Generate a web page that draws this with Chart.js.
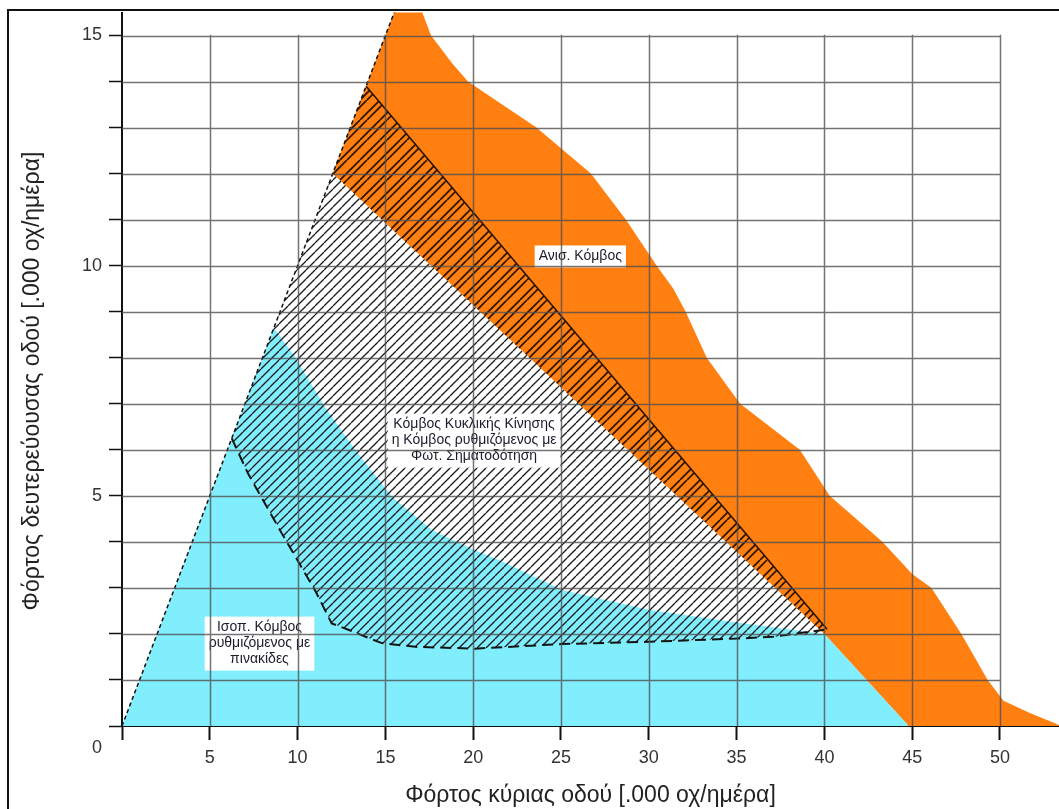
<!DOCTYPE html>
<html><head><meta charset="utf-8">
<script src="https://cdn.jsdelivr.net/npm/chart.js@4.4.1/dist/chart.umd.min.js"></script>
<style>html,body{margin:0;padding:0;background:#fff;overflow:hidden}canvas{display:block}</style>
</head><body>
<canvas id="c" width="1059" height="809"></canvas>
<script>
// ---------- data ----------
const xTicks = [0, 5, 10, 15, 20, 25, 30, 35, 40, 45, 50];
const yTicks = [0, 1, 2, 3, 4, 5, 6, 7, 8, 9, 10, 11, 12, 13, 14, 15];
const xGrid = [5, 10, 15, 20, 25, 30, 35, 40, 45, 50];
const yGrid = [1, 2, 3, 4, 5, 6, 7, 8, 9, 10, 11, 12, 13, 14, 15];

// limit line (secondary = main)
const boundaryX = [0, 15.7];
const boundaryY = [0, 15.7];

// orange zone (grade-separated junction)
const orangeX = [12, 15.7, 16.9, 17.6, 18.8, 19.7, 23.6, 26.7, 28.7, 30.45, 31.4, 32.1, 33.3, 35.2, 38.6, 40.3, 43.3, 45.0, 46.1, 47.8, 49.3, 50.2, 51.7, 53.2, 53.4, 44.8, 40.0, 12];
const orangeY = [12, 15.7, 15.7, 15.0, 14.4, 14.0, 13.0, 12.0, 11.0, 10.0, 9.5, 9.0, 8.0, 7.0, 6.0, 5.0, 4.0, 3.3, 3.0, 2.0, 1.0, 0.55, 0.28, 0.05, 0, 0, 2.0, 12];

// cyan zone (at-grade junction with signs)
const cyanX = [0, 8.65, 9.85, 11.56, 13.27, 15.4, 17.65, 20.1, 21.5, 25.1, 30.07, 35.2, 39.0, 40.0, 44.8, 0];
const cyanY = [0, 8.65, 8.02, 6.93, 6.0, 4.97, 4.26, 3.82, 3.6, 2.95, 2.52, 2.24, 2.05, 2.0, 0, 0];

// hatched zone (roundabout / signalised) lower outline
const hatchEdgeX = [6.25, 7.17, 9.09, 10.99, 11.94, 12.89, 14.79, 16.7, 20.1, 25.0, 30.0, 35.1, 37.1, 40.15];
const hatchEdgeY = [6.25, 5.49, 4.19, 2.95, 2.23, 2.09, 1.80, 1.72, 1.68, 1.78, 1.83, 1.90, 1.94, 2.10];

// inner edge of orange zone and outer edge of hatched band
const innerX = [40.0, 12];
const innerY = [2.0, 12];
const outerX = [13.9, 40.15];
const outerY = [13.9, 2.10];

// ---------- helpers ----------
const FONT = "'Liberation Sans', Arial, sans-serif";
const pts = (xs, ys) => xs.map((x, i) => ({x: x, y: ys[i]}));

function makePattern(size, offsets, color, width) {
  const c = document.createElement('canvas');
  c.width = size; c.height = size;
  const g = c.getContext('2d');
  g.strokeStyle = color; g.lineWidth = width; g.lineCap = 'butt';
  for (const o of offsets) {
    for (let k = -2; k <= 2; k++) {
      const x0 = o + k * size;
      g.beginPath(); g.moveTo(x0, size); g.lineTo(x0 + size, 0); g.stroke();
    }
  }
  return g.createPattern(c, 'repeat');
}
const ctx = document.getElementById('c').getContext('2d');
const hatchPat = makePattern(9, [0], '#1c1c1c', 1.3);
const bandPat = makePattern(20, [0, 7], '#2a1400', 1.7);

const hatchPolyX = hatchEdgeX.slice(0, -1).concat(innerX, [hatchEdgeX[0]]);
const hatchPolyY = hatchEdgeY.slice(0, -1).concat(innerY, [hatchEdgeY[0]]);
const bandX = [innerX[1], outerX[0], outerX[1], innerX[0], innerX[1]];
const bandY = [innerY[1], outerY[0], outerY[1], innerY[0], innerY[1]];

const T = 'rgba(0,0,0,0)';
const base = {pointRadius: 0, tension: 0, borderWidth: 0, borderColor: T};

const labels = [
  {x: 26.1, y: 10.2, lines: ['Ανισ. Κόμβος']},
  {x: 20.05, y: 6.2, lines: ['Κόμβος Κυκλικής Κίνησης', 'η Κόμβος ρυθμιζόμενος με', 'Φωτ. Σηματοδότηση']},
  {x: 7.83, y: 1.79, lines: ['Ισοπ. Κόμβος', 'ρυθμιζόμενος με', 'πινακίδες']}
];

const overlay = {
  id: 'overlay',
  afterDatasetsDraw(chart) {
    const c = chart.ctx, xs = chart.scales.x, ys = chart.scales.y;
    c.save();
    // label boxes
    c.font = '14px ' + FONT;
    c.textAlign = 'center'; c.textBaseline = 'middle';
    const lh = 16;
    for (const L of labels) {
      const cx = xs.getPixelForValue(L.x), cy = ys.getPixelForValue(L.y);
      const w = Math.max(...L.lines.map(s => c.measureText(s).width)) + 8;
      const h = L.lines.length * lh + 6;
      c.fillStyle = '#ffffff';
      c.fillRect(cx - w / 2, cy - h / 2, w, h);
      c.fillStyle = '#1c1c2c';
      L.lines.forEach((s, i) => c.fillText(s, cx, cy - h / 2 + 3 + lh * (i + 0.5)));
    }
    // grid
    c.strokeStyle = 'rgba(80,80,80,0.8)';
    c.lineWidth = 1.5;
    const x0 = xs.getPixelForValue(0), x50 = xs.getPixelForValue(50);
    const y0 = ys.getPixelForValue(0), y15 = ys.getPixelForValue(15);
    c.beginPath();
    for (const v of xGrid) { const p = Math.round(xs.getPixelForValue(v)) + 0.5; c.moveTo(p, y0); c.lineTo(p, y15 - 0.75); }
    for (const v of yGrid) { const p = Math.round(ys.getPixelForValue(v)) + 0.5; c.moveTo(x0, p); c.lineTo(x50 + 0.75, p); }
    c.stroke();
    c.restore();
  },
  afterDraw(chart) {
    const c = chart.ctx, xs = chart.scales.x, ys = chart.scales.y;
    c.save();
    // y-axis title
    c.font = '23px ' + FONT;
    c.fillStyle = '#222';
    c.textAlign = 'center'; c.textBaseline = 'middle';
    c.translate(33, 381); c.rotate(-Math.PI / 2);
    c.fillText('Φόρτος δευτερεύουσας οδού [.000 οχ/ημέρα]', 0, 0);
    c.restore();
    c.save();
    // origin label
    c.font = '18px ' + FONT; c.fillStyle = '#333';
    c.textAlign = 'center'; c.textBaseline = 'middle';
    c.fillText('0', xs.getPixelForValue(0) - 25, ys.getPixelForValue(0) + 22);
    // frame
    c.strokeStyle = '#111'; c.lineWidth = 2;
    c.beginPath(); c.moveTo(8, 809); c.lineTo(8, 10); c.lineTo(1059, 10); c.stroke();
    c.restore();
  }
};

new Chart(ctx, {
  type: 'line',
  data: {
    datasets: [
      Object.assign({}, base, {label: 'orange', data: pts(orangeX, orangeY), backgroundColor: '#FF7F10', fill: 'shape', order: 10}),
      Object.assign({}, base, {label: 'cyan', data: pts(cyanX, cyanY), backgroundColor: '#80EEFD', fill: 'shape', order: 9}),
      Object.assign({}, base, {label: 'hatch', data: pts(hatchPolyX, hatchPolyY), backgroundColor: hatchPat, fill: 'shape', order: 8}),
      Object.assign({}, base, {label: 'band', data: pts(bandX, bandY), backgroundColor: bandPat, fill: 'shape', order: 7}),
      Object.assign({}, base, {label: 'hatchEdge', data: pts(hatchEdgeX, hatchEdgeY), fill: false, borderColor: '#141414', borderWidth: 2, borderDash: [11, 6], order: 3}),
      Object.assign({}, base, {label: 'outer', data: pts(outerX, outerY), fill: false, borderColor: '#2a1400', borderWidth: 1.6, order: 2}),
      Object.assign({}, base, {label: 'boundary', data: pts(boundaryX, boundaryY), fill: false, borderColor: '#111', borderWidth: 1.5, borderDash: [4, 3], order: 1})
    ]
  },
  options: {
    responsive: false,
    devicePixelRatio: 1,
    animation: false,
    events: [],
    layout: {padding: {top: 12.5, left: 0, right: 0, bottom: 0}},
    plugins: {legend: {display: false}, tooltip: {enabled: false}},
    scales: {
      x: {
        type: 'linear', min: 0, max: 53.36, position: 'bottom', z: 1,
        afterBuildTicks: a => { a.ticks = xTicks.map(v => ({value: v})); },
        afterFit: s => { s.height = 83; s.paddingLeft = 0; s.paddingRight = 0; },
        grid: {drawOnChartArea: false, drawTicks: true, tickLength: 14, tickColor: '#111', tickWidth: 2},
        border: {display: true, color: '#111', width: 2},
        ticks: {callback: v => v === 0 ? '' : String(v), font: {family: FONT, size: 18}, color: '#333', padding: 7, maxRotation: 0, autoSkip: false},
        title: {display: true, text: 'Φόρτος κύριας οδού [.000 οχ/ημέρα]', font: {family: FONT, size: 23}, color: '#222', padding: {top: 0, bottom: 0}}
      },
      y: {
        type: 'linear', min: 0, max: 15.5, z: 1,
        afterBuildTicks: a => { a.ticks = yTicks.map(v => ({value: v})); },
        afterFit: s => { s.width = 122; s.paddingTop = 0; s.paddingBottom = 0; },
        grid: {drawOnChartArea: false, drawTicks: true, tickLength: 13, tickColor: '#111', tickWidth: 1.5},
        border: {display: true, color: '#111', width: 2},
        ticks: {callback: v => (v % 5 === 0 && v !== 0) ? String(v) : '', font: {family: FONT, size: 18}, color: '#333', padding: 7, autoSkip: false}
      }
    }
  },
  plugins: [overlay]
});
</script>
</body></html>
